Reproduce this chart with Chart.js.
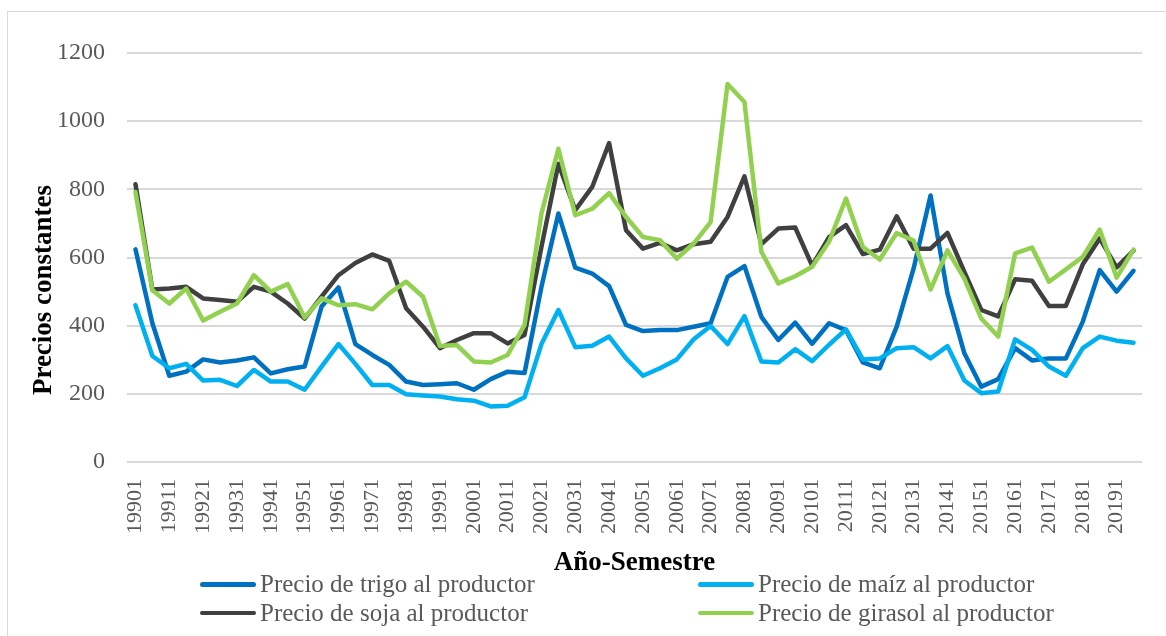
<!DOCTYPE html>
<html>
<head>
<meta charset="utf-8">
<script src="https://cdn.jsdelivr.net/npm/chart.js@4.4.1/dist/chart.umd.min.js"></script>
<style>
  html, body { margin: 0; padding: 0; background: #fff; overflow: hidden; }
  #wrap { position: relative; width: 1166px; height: 636px; overflow: hidden; }
  #marco { position: absolute; left: 7px; top: 11px; width: 1200px; height: 700px; border: 1px solid #d9d9d9; }
  #grafico { position: absolute; left: 0; top: 0; }
  #leyenda {
    position: absolute; left: 200px; top: 570px;
    display: grid; grid-template-columns: 498px auto;
    font-family: "Liberation Serif", "Times New Roman", serif;
    font-size: 25px; line-height: 28.5px; color: #595959;
  }
  #leyenda .item { display: flex; align-items: center; white-space: nowrap; }
  #leyenda .linea { display: inline-block; width: 56px; height: 4.5px; border-radius: 3px; margin-right: 4px; }
</style>
</head>
<body>
<div id="wrap">
  <div id="marco"></div>
  <canvas id="grafico" width="1166" height="636"></canvas>
  <div id="leyenda"></div>
</div>
<script>
// semestres (año + semestre)
var semestres = ['19901','19902','19911','19912','19921','19922','19931','19932','19941','19942',
  '19951','19952','19961','19962','19971','19972','19981','19982','19991','19992',
  '20001','20002','20011','20012','20021','20022','20031','20032','20041','20042',
  '20051','20052','20061','20062','20071','20072','20081','20082','20091','20092',
  '20101','20102','20111','20112','20121','20122','20131','20132','20141','20142',
  '20151','20152','20161','20162','20171','20172','20181','20182','20191','20192'];

var trigo = [624, 407, 253, 265, 301, 292, 298, 307, 260, 272,
  280, 456, 512, 346, 314, 285, 236, 226, 228, 231,
  212, 243, 265, 261, 514, 729, 570, 553, 516, 402,
  384, 387, 387, 397, 407, 543, 575, 426, 358, 409,
  347, 407, 387, 292, 275, 397, 568, 782, 495, 319,
  221, 243, 334, 298, 304, 304, 412, 563, 500, 561];

var maiz = [460, 311, 275, 288, 239, 241, 223, 270, 236, 236,
  212, 280, 346, 288, 226, 226, 199, 195, 192, 184,
  180, 163, 165, 190, 346, 446, 337, 341, 368, 304,
  253, 275, 301, 360, 399, 346, 428, 295, 292, 331,
  296, 344, 389, 301, 304, 334, 337, 304, 340, 239,
  202, 207, 360, 329, 280, 253, 334, 368, 356, 350];

var soja = [815, 506, 509, 514, 480, 475, 470, 514, 500, 465,
  421, 485, 548, 584, 609, 590, 451, 397, 334, 358,
  378, 378, 348, 373, 631, 875, 739, 807, 936, 680,
  626, 643, 621, 639, 646, 719, 838, 639, 685, 688,
  576, 660, 695, 610, 623, 721, 626, 626, 672, 558,
  446, 427, 536, 532, 458, 458, 580, 656, 571, 620];

var girasol = [792, 504, 465, 509, 415, 441, 465, 548, 500, 522,
  424, 480, 460, 463, 448, 495, 529, 485, 340, 343,
  295, 292, 314, 402, 729, 919, 724, 743, 789, 719,
  660, 651, 597, 641, 704, 1109, 1056, 617, 524, 545,
  573, 646, 773, 631, 594, 672, 650, 506, 621, 538,
  421, 368, 612, 629, 529, 565, 602, 682, 541, 623];

var fuente = '"Liberation Serif", "Times New Roman", serif';

function serie(nombre, datos, color, orden){
  return {
    label: nombre,
    data: datos,
    borderColor: color,
    backgroundColor: color,
    borderWidth: 4.5,
    pointRadius: 0,
    tension: 0,
    borderJoinStyle: 'round',
    borderCapStyle: 'round',
    fill: false,
    order: orden
  };
}

// titulo del eje Y, algo por debajo del centro como en el original
var tituloY = {
  id: 'tituloY',
  afterDraw: function(chart){
    var c = chart.ctx;
    c.save();
    c.translate(44, 290);
    c.rotate(-Math.PI / 2);
    c.font = 'bold 27px ' + fuente;
    c.fillStyle = '#000';
    c.textAlign = 'center';
    c.textBaseline = 'middle';
    c.fillText('Precios constantes', 0, 0);
    c.restore();
  }
};

var ctx = document.getElementById('grafico').getContext('2d');
var chart = new Chart(ctx, {
  type: 'line',
  data: {
    labels: semestres,
    datasets: [
      serie('Precio de trigo al productor', trigo, '#0070C0', 3),
      serie('Precio de maíz al productor', maiz, '#00B0F0', 2),
      serie('Precio de soja al productor', soja, '#404040', 1),
      serie('Precio de girasol al productor', girasol, '#92D050', 0)
    ]
  },
  options: {
    responsive: false,
    animation: false,
    layout: { padding: { left: 0, top: 53, right: 24, bottom: 46 } },
    plugins: {
      legend: { display: false },
      title: { display: false },
      tooltip: { enabled: false }
    },
    scales: {
      x: {
        type: 'category',
        offset: true,
        grid: { display: false, drawTicks: false },
        border: { display: false },
        ticks: {
          autoSkip: false,
          minRotation: 90,
          maxRotation: 90,
          padding: 17,
          color: '#595959',
          font: { family: fuente, size: 22 },
          callback: function(v, i){ return i % 2 === 0 ? this.getLabelForValue(v) : ''; }
        },
        title: {
          display: true,
          text: 'Año-Semestre',
          color: '#000',
          font: { family: fuente, size: 27, weight: 'bold' },
          padding: { top: 0, bottom: 11 }
        },
        afterFit: function(scale){
          scale.height = 128;
          scale.paddingLeft = 0;
          scale.paddingRight = 0;
        }
      },
      y: {
        min: 0,
        max: 1200,
        grid: { color: '#d9d9d9', lineWidth: 2, drawTicks: false },
        border: { display: false },
        ticks: {
          stepSize: 200,
          padding: 22,
          color: '#595959',
          font: { family: fuente, size: 24 },
          callback: function(v){ return String(v); }
        },
        afterFit: function(scale){ scale.width = 127; }
      }
    }
  },
  plugins: [tituloY]
});

// leyenda en dos columnas, como en el original
var leyenda = document.getElementById('leyenda');
chart.data.datasets.forEach(function(ds){
  var item = document.createElement('div');
  item.className = 'item';
  var linea = document.createElement('span');
  linea.className = 'linea';
  linea.style.background = ds.borderColor;
  item.appendChild(linea);
  item.appendChild(document.createTextNode(ds.label));
  leyenda.appendChild(item);
});
</script>
</body>
</html>
